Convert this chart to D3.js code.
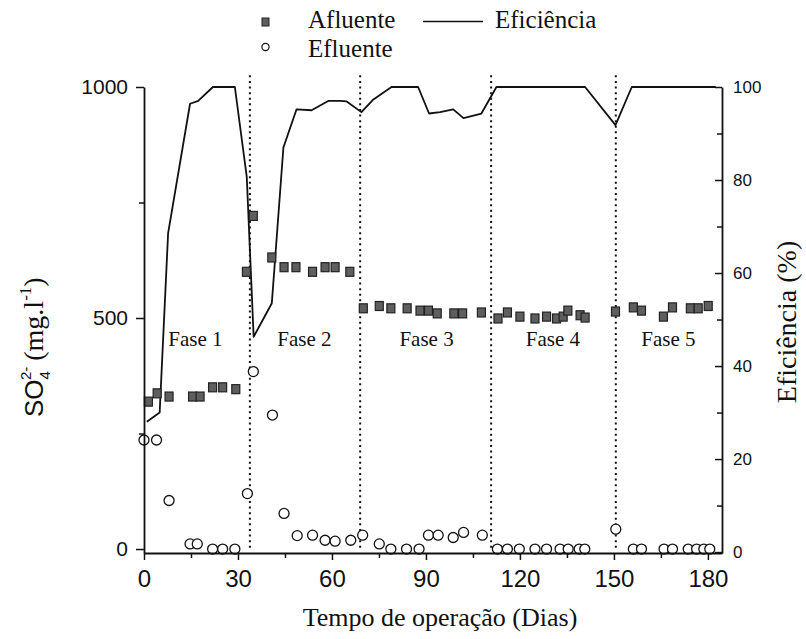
<!DOCTYPE html>
<html>
<head>
<meta charset="utf-8">
<script src="https://cdn.jsdelivr.net/npm/d3@7"></script>
<style>
  body { margin: 0; background: #fff; }
  svg text { fill: #111; }
</style>
</head>
<body>
<svg id="chart" width="806" height="639"></svg>
<script>
// Eficiência (%), right axis
let eff_days   = [0.9, 5, 7.7, 14.7, 17.3, 22, 29, 32.8, 35, 40.8, 44.5, 48.7, 53.5, 58.8, 62.6, 64.7, 69.4, 73, 79, 87.5, 91, 94.5, 98.7, 102, 107.7, 112.5, 140.8, 150.5, 155.7, 182.5];
let eff_values = [28, 30, 68.6, 96.4, 97, 100, 100, 80.7, 46.3, 53.5, 87, 95.2, 95, 97, 97, 96.9, 94.6, 97.2, 100, 100, 94.3, 94.6, 95.2, 93.3, 94.3, 100, 100, 91.8, 100, 100];

// Afluente SO4 (mg/l), left axis
let afl_days   = [1.4, 4.2, 8, 15.5, 17.9, 21.9, 25.1, 29.3, 32.7, 34.9, 40.8, 44.7, 48.5, 53.8, 57.8, 61, 65.7, 70, 75.1, 78.8, 84, 88.1, 90.8, 93.6, 98.9, 101.7, 107.7, 113, 116, 120, 124.8, 128.5, 131.7, 133.8, 135.3, 139.2, 140.8, 150.5, 156.2, 158.8, 165.8, 168.7, 174.4, 176.9, 180.1];
let afl_values = [319, 337, 330, 330, 330, 350, 350, 346, 600, 721, 631, 610, 610, 600, 610, 610, 600, 521, 526, 521, 521, 516, 516, 510, 510, 510, 512, 499, 512, 503, 499, 503, 499, 503, 516, 506, 501, 514, 523, 516, 503, 523, 521, 521, 526];

// Efluente SO4 (mg/l), left axis
let efl_days   = [0, 4, 8, 14.7, 17, 21.9, 25.1, 29, 33, 34.9, 41, 44.7, 48.9, 53.8, 57.8, 61, 66, 69.8, 75.1, 78.8, 83.8, 87.8, 90.8, 93.9, 98.7, 102, 108, 112.8, 116, 119.8, 124.8, 128.5, 132.8, 135.4, 138.9, 140.7, 150.6, 156.2, 158.8, 166, 168.7, 173.7, 176.4, 178.7, 180.6];
let efl_values = [236, 236, 105, 11, 11, 0, 0, 0, 120, 384, 290, 77, 29, 30, 19, 17, 19, 30, 11, 0, 0, 0, 30, 30, 25, 36, 30, 0, 0, 0, 0, 0, 0, 0, 0, 0, 43, 0, 0, 0, 0, 0, 0, 0, 0];

let phase_days = [33.8, 69, 110.8, 150.6];
let phase_names = ['Fase 1', 'Fase 2', 'Fase 3', 'Fase 4', 'Fase 5'];
let phase_label_days = [16.4, 51.2, 90.2, 130.5, 167.4];

let x_ticks = [0, 30, 60, 90, 120, 150, 180];
let x_minor_ticks = [15, 45, 75, 105, 135, 165];
let left_ticks = [0, 500, 1000];
let left_minor_ticks = [250, 750];
let right_ticks = [0, 20, 40, 60, 80, 100];
let right_minor_ticks = [10, 30, 50, 70, 90];

let sans = "'Liberation Sans', Arial, sans-serif";
let serif = "'Liberation Serif', 'Times New Roman', serif";

let svg = d3.select('#chart');

let x = d3.scaleLinear().domain([0, 184.5]).range([144, 722]);
let y_left = d3.scaleLinear().domain([-8.6, 1000]).range([553, 87]);
let y_right = d3.scaleLinear().domain([-0.2, 100]).range([553, 87]);

// phase separators
svg.selectAll('.phase-line')
  .data(phase_days)
  .enter().append('line')
  .attr('class', 'phase-line')
  .attr('x1', d => x(d)).attr('x2', d => x(d))
  .attr('y1', y_right(102.5)).attr('y2', y_right(0.3))
  .attr('stroke', '#111')
  .attr('stroke-width', 2)
  .attr('stroke-dasharray', '2,3.6');

svg.selectAll('.phase-label')
  .data(phase_names)
  .enter().append('text')
  .attr('class', 'phase-label')
  .attr('x', (d, i) => x(phase_label_days[i]))
  .attr('y', y_left(440))
  .style('font-family', serif)
  .style('font-size', '21px')
  .style('text-anchor', 'middle')
  .text(d => d);

// efficiency line
let eff_line = d3.line()
  .x(d => x(d[0]))
  .y(d => y_right(d[1]));

svg.append('path')
  .datum(d3.zip(eff_days, eff_values))
  .attr('d', eff_line)
  .attr('fill', 'none')
  .attr('stroke', '#111')
  .attr('stroke-width', 1.8)
  .attr('stroke-linejoin', 'round');

// afluente squares
svg.selectAll('.afl')
  .data(d3.zip(afl_days, afl_values))
  .enter().append('rect')
  .attr('class', 'afl')
  .attr('x', d => x(d[0]) - 4)
  .attr('y', d => y_left(d[1]) - 4.5)
  .attr('width', 8)
  .attr('height', 9)
  .attr('fill', '#5e5e5e')
  .attr('stroke', '#222')
  .attr('stroke-width', 1.2);

// efluente circles
svg.selectAll('.efl')
  .data(d3.zip(efl_days, efl_values))
  .enter().append('circle')
  .attr('class', 'efl')
  .attr('cx', d => x(d[0]))
  .attr('cy', d => y_left(d[1]))
  .attr('r', 5)
  .attr('fill', '#fff')
  .attr('stroke', '#111')
  .attr('stroke-width', 1.3);

function style_axis(g, size) {
  g.select('.domain').attr('stroke', '#111').attr('stroke-width', 1.8);
  g.selectAll('.tick line').attr('stroke', '#111').attr('stroke-width', 1.5);
  g.selectAll('text').style('font-family', sans).style('font-size', size).attr('fill', '#111');
}

// bottom axis
let x_axis = svg.append('g').attr('transform', 'translate(0,553)')
  .call(d3.axisBottom(x).tickValues(x_ticks).tickSize(7).tickSizeOuter(0).tickPadding(10));
style_axis(x_axis, '24px');
svg.append('g').attr('transform', 'translate(0,553)')
  .call(d3.axisBottom(x).tickValues(x_minor_ticks).tickSize(5).tickFormat(''))
  .call(g => g.select('.domain').remove())
  .selectAll('line').attr('stroke', '#111').attr('stroke-width', 1.5);

// left axis
let left_axis = svg.append('g').attr('transform', 'translate(144,0)')
  .call(d3.axisLeft(y_left).tickValues(left_ticks).tickFormat(d3.format('d'))
    .tickSize(8).tickSizeOuter(0).tickPadding(8));
style_axis(left_axis, '21px');
svg.append('g').attr('transform', 'translate(144,0)')
  .call(d3.axisLeft(y_left).tickValues(left_minor_ticks).tickSize(5).tickFormat(''))
  .call(g => g.select('.domain').remove())
  .selectAll('line').attr('stroke', '#111').attr('stroke-width', 1.5);

// right axis, ticks point inward
let right_axis = svg.append('g').attr('transform', 'translate(722,0)')
  .call(d3.axisRight(y_right).tickValues(right_ticks).tickSizeInner(-7).tickSizeOuter(0).tickPadding(11));
style_axis(right_axis, '17px');
svg.append('g').attr('transform', 'translate(722,0)')
  .call(d3.axisRight(y_right).tickValues(right_minor_ticks).tickSize(-5).tickFormat(''))
  .call(g => g.select('.domain').remove())
  .selectAll('line').attr('stroke', '#111').attr('stroke-width', 1.5);

// axis titles
svg.append('text')
  .attr('x', 440)
  .attr('y', 626)
  .style('font-family', serif)
  .style('font-size', '26px')
  .style('text-anchor', 'middle')
  .text('Tempo de operação (Dias)');

svg.append('text')
  .attr('transform', 'translate(796,322) rotate(-90)')
  .style('font-family', serif)
  .style('font-size', '28px')
  .style('text-anchor', 'middle')
  .text('Eficiência (%)');

let y_title = svg.append('text')
  .attr('transform', 'translate(43,417) rotate(-90)')
  .style('font-size', '26px');
y_title.append('tspan').style('font-family', sans).text('SO');
y_title.append('tspan').style('font-family', sans).style('font-size', '15px').attr('dy', 7).text('4');
y_title.append('tspan').style('font-family', sans).style('font-size', '15px').attr('dx', -9).attr('dy', -19).text('2-');
y_title.append('tspan').style('font-family', serif).style('font-size', '28px').attr('dx', 6).attr('dy', 12).text('(mg.l');
y_title.append('tspan').style('font-family', serif).style('font-size', '17px').attr('dy', -12).text('-1');
y_title.append('tspan').style('font-family', serif).style('font-size', '28px').attr('dy', 12).text(')');

// legend
let legend = svg.append('g');
legend.append('rect')
  .attr('x', 262).attr('y', 18).attr('width', 7).attr('height', 8)
  .attr('fill', '#5e5e5e').attr('stroke', '#222').attr('stroke-width', 1);
legend.append('circle')
  .attr('cx', 265.5).attr('cy', 47).attr('r', 3.6)
  .attr('fill', '#fff').attr('stroke', '#111').attr('stroke-width', 1.2);
legend.append('line')
  .attr('x1', 423).attr('x2', 483).attr('y1', 21.5).attr('y2', 21.5)
  .attr('stroke', '#111').attr('stroke-width', 1.5);
legend.selectAll('.legend-text')
  .data([['Afluente', 308, 28], ['Eficiência', 495, 28], ['Efluente', 308, 57]])
  .enter().append('text')
  .attr('class', 'legend-text')
  .attr('x', d => d[1])
  .attr('y', d => d[2])
  .style('font-family', serif)
  .style('font-size', '25px')
  .text(d => d[0]);
</script>
</body>
</html>
